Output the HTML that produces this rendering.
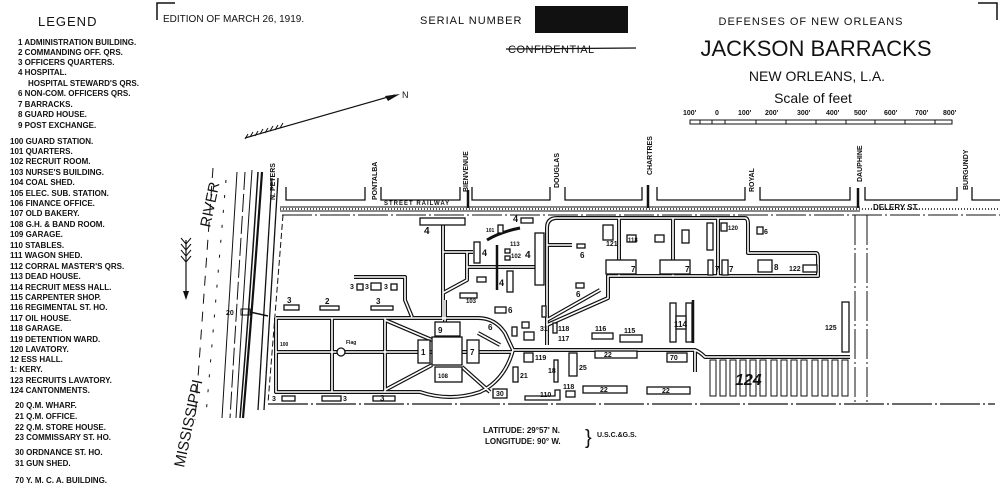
<!DOCTYPE html>
<html><head><meta charset="utf-8"><style>
html,body{margin:0;padding:0;background:#fff;}
svg{display:block;}
text{font-family:"Liberation Sans",sans-serif;fill:#111;}
.lg{font-size:8px;font-weight:bold;}
.s{font-size:7px;font-weight:bold;}
.st{font-size:7px;font-weight:bold;}
</style></head><body>
<svg width="1000" height="500" viewBox="0 0 1000 500" xmlns="http://www.w3.org/2000/svg">
<defs>
<path id="roads" d="M547 345 V228 Q547 218 557 218 H745 Q748 218 748 224 V253 H816 Q818 253 818 258 V276 H608 V298 L547 325
M619 218 V276 M673 218 V276 M718 218 V276
M443 225 V320 M443 252 H473 M467 267 H540 M467 252 V280 L443 293 M547 245 H572
M276 318 H478 Q495 318 505 333 L513 350 H695 Q700 352 705 357 H850
M276 318 V392 H420 Q450 402 480 392 Q505 380 513 350
M332 318 V392 M385 318 V392 M276 352 H432 M462 352 H513
M385 320 L432 340 M385 390 L432 365 M462 367 L490 392 M478 333 L500 345
M445 300 V322 M547 320 L600 290 M695 350 V372
M354 277 H405 V300 L412 317"/>
</defs>
<rect width="1000" height="500" fill="#fff"/>
<!-- LEGEND -->
<text x="38" y="26" style="font-size:13px;letter-spacing:1px">LEGEND</text>
<g class="lg">
<text x="18" y="45">1 ADMINISTRATION BUILDING.</text>
<text x="18" y="55">2 COMMANDING OFF. QRS.</text>
<text x="18" y="65">3 OFFICERS QUARTERS.</text>
<text x="18" y="75">4 HOSPITAL.</text>
<text x="28" y="86">HOSPITAL STEWARD'S QRS.</text>
<text x="18" y="96">6 NON-COM. OFFICERS QRS.</text>
<text x="18" y="107">7 BARRACKS.</text>
<text x="18" y="117">8 GUARD HOUSE.</text>
<text x="18" y="128">9 POST EXCHANGE.</text>
<text x="10" y="144">100 GUARD STATION.</text>
<text x="10" y="154">101 QUARTERS.</text>
<text x="10" y="164">102 RECRUIT ROOM.</text>
<text x="10" y="175">103 NURSE'S BUILDING.</text>
<text x="10" y="185">104 COAL SHED.</text>
<text x="10" y="196">105 ELEC. SUB. STATION.</text>
<text x="10" y="206">106 FINANCE OFFICE.</text>
<text x="10" y="216">107 OLD BAKERY.</text>
<text x="10" y="227">108 G.H. &amp; BAND ROOM.</text>
<text x="10" y="237">109 GARAGE.</text>
<text x="10" y="248">110 STABLES.</text>
<text x="10" y="258">111 WAGON SHED.</text>
<text x="10" y="269">112 CORRAL MASTER'S QRS.</text>
<text x="10" y="279">113 DEAD HOUSE.</text>
<text x="10" y="290">114 RECRUIT MESS HALL.</text>
<text x="10" y="300">115 CARPENTER SHOP.</text>
<text x="10" y="310">116 REGIMENTAL ST. HO.</text>
<text x="10" y="321">117 OIL HOUSE.</text>
<text x="10" y="331">118 GARAGE.</text>
<text x="10" y="342">119 DETENTION WARD.</text>
<text x="10" y="352">120 LAVATORY.</text>
<text x="10" y="362">12   ESS HALL.</text>
<text x="10" y="372">1:     KERY.</text>
<text x="10" y="383">123 RECRUITS LAVATORY.</text>
<text x="10" y="393">124 CANTONMENTS.</text>
<text x="15" y="408">20 Q.M. WHARF.</text>
<text x="15" y="419">21 Q.M. OFFICE.</text>
<text x="15" y="430">22 Q.M. STORE HOUSE.</text>
<text x="15" y="440">23 COMMISSARY ST. HO.</text>
<text x="15" y="455">30 ORDNANCE ST. HO.</text>
<text x="15" y="466">31 GUN SHED.</text>
<text x="15" y="483">70 Y. M. C. A. BUILDING.</text>
</g>
<!-- header -->
<path d="M157 20 V3 H175" fill="none" stroke="#111" stroke-width="1.5"/>
<path d="M978 3 H997 V20" fill="none" stroke="#111" stroke-width="1.5"/>
<text x="163" y="22" style="font-size:10px">EDITION OF MARCH 26, 1919.</text>
<text x="420" y="24" style="font-size:11px;letter-spacing:1px">SERIAL NUMBER</text>
<rect x="535" y="6" width="93" height="27" fill="#111"/>
<text x="508" y="53" style="font-size:11px;letter-spacing:.5px">CONFIDENTIAL</text>
<line x1="506" y1="49" x2="636" y2="48" stroke="#111" stroke-width="1.3"/>
<text x="811" y="25" text-anchor="middle" style="font-size:11px;letter-spacing:1px">DEFENSES OF NEW ORLEANS</text>
<text x="816" y="56" text-anchor="middle" style="font-size:22px">JACKSON BARRACKS</text>
<text x="817" y="81" text-anchor="middle" style="font-size:14px">NEW ORLEANS, L.A.</text>
<text x="813" y="103" text-anchor="middle" style="font-size:14px">Scale of feet</text>
<g class="s">
<text x="683" y="115">100'</text><text x="715" y="115">0</text><text x="738" y="115">100'</text><text x="765" y="115">200'</text><text x="797" y="115">300'</text><text x="826" y="115">400'</text><text x="854" y="115">500'</text><text x="884" y="115">600'</text><text x="915" y="115">700'</text><text x="943" y="115">800'</text>
</g>
<rect x="690" y="120" width="262" height="4" fill="none" stroke="#111" stroke-width="1"/>
<path d="M700 120v4M712 120v4M725 120v4M756 120v4M786 120v4M816 120v4M846 120v4M875 120v4M905 120v4M935 120v4" stroke="#111"/>
<!-- north arrow -->
<line x1="245" y1="138" x2="395" y2="95" stroke="#111" stroke-width="1.2"/>
<path d="M400 94 L385 96 L388 101 Z" fill="#111"/>
<path d="M245 139l3-5M250 137l3-5M255 136l3-5M260 134l3-5M265 133l3-5M270 131l3-5M275 130l3-5M280 128l3-5" stroke="#111"/>
<text x="402" y="98" style="font-size:9px">N</text>
<!-- river -->
<text transform="translate(210,228) rotate(-78)" style="font-size:15px">RIVER</text>
<text transform="translate(184,468) rotate(-78)" style="font-size:15px">MISSISSIPPI</text>
<line x1="186" y1="240" x2="186" y2="298" stroke="#111" stroke-width="1.2"/>
<path d="M186 300 l-3-9 h6z" fill="#111"/>
<path d="M186 244l-5-6M186 244l5-6M186 250l-5-6M186 250l5-6M186 256l-5-6M186 256l5-6M186 262l-5-6M186 262l5-6" stroke="#111"/>
<g fill="none" stroke="#111">
<path d="M213 168 L195 420" stroke-dasharray="10 8"/>
<path d="M237 172 L222 418" stroke-width="1"/>
<path d="M245 172 L230 418" stroke-dasharray="18 4"/>
<path d="M252 170 Q243 300 236 418" stroke-width="1"/>
<path d="M258 172 Q250 300 240 418" stroke-width="1.5"/>
<path d="M262 172 Q253 300 243 418" stroke-width="2.2"/>
<path d="M226 180 L206 415" stroke-dasharray="3 12"/>
<path d="M272 178 L258 410" stroke-width="1.3"/>
<path d="M278 178 L264 410" stroke-width="1.3"/>
</g>
<rect x="241" y="309" width="9" height="6" fill="none" stroke="#111"/>
<line x1="250" y1="312" x2="268" y2="316" stroke="#111" stroke-width="1.5"/>
<text x="226" y="315" class="s">20</text>
<!-- streets -->
<g class="st">
<text transform="translate(275,200) rotate(-90)">N. PETERS</text>
<text transform="translate(377,200) rotate(-90)">PONTALBA</text>
<text transform="translate(468,192) rotate(-90)">BIENVENUE</text>
<text transform="translate(559,188) rotate(-90)">DOUGLAS</text>
<text transform="translate(652,175) rotate(-90)">CHARTRES</text>
<text transform="translate(754,192) rotate(-90)">ROYAL</text>
<text transform="translate(862,182) rotate(-90)">DAUPHINE</text>
<text transform="translate(968,190) rotate(-90)">BURGUNDY</text>
<text x="384" y="205" style="font-size:6px;letter-spacing:1px">STREET RAILWAY</text>
<text x="873" y="210" style="font-size:8px">DELERY ST.</text>
</g>
<g fill="none" stroke="#111" stroke-width="1.3">
<path d="M286 187 V200 H365 V187"/>
<path d="M381 187 V200 H460 V187"/>
<path d="M472 187 V200 H550 V187"/>
<path d="M565 187 V200 H642 V187"/>
<path d="M657 187 V200 H745 V187"/>
<path d="M760 187 V200 H850 V187"/>
<path d="M865 187 V200 H957 V187"/>
<path d="M972 187 V200 H1000"/>
</g>
<line x1="280" y1="209" x2="1000" y2="209" stroke="#111" stroke-width="1.5" stroke-dasharray="1 2"/>
<line x1="280" y1="207" x2="860" y2="207" stroke="#111" stroke-width="1"/>
<line x1="280" y1="211" x2="860" y2="211" stroke="#111" stroke-width="1"/>
<path d="M468 190 V208 M648 185 V208 M858 188 V208" stroke="#111" stroke-width="2.5"/>
<line x1="282" y1="215" x2="1000" y2="215" stroke="#111" stroke-width="1" stroke-dasharray="30 3 2 3"/>
<path d="M283 215 L268 403" stroke="#111" stroke-dasharray="6 3"/>
<line x1="268" y1="404" x2="995" y2="404" stroke="#111" stroke-width="1.3" stroke-dasharray="40 3 2 3"/>
<path d="M855 215 V402 M867 215 V402" stroke="#111" stroke-dasharray="30 3 2 3"/>
<!-- roads -->
<g fill="none" stroke-linejoin="round">
<use href="#roads" stroke="#111" stroke-width="4"/>
<use href="#roads" stroke="#fff" stroke-width="1.6"/>
<path d="M497 245 V290" stroke="#111" stroke-width="2.5"/>
<path d="M487 240 Q500 232 520 228" stroke="#111" stroke-width="3"/>
</g>
<!-- buildings -->
<g fill="#fff" stroke="#111" stroke-width="1.3">
<rect x="432" y="337" width="30" height="28"/>
<rect x="435" y="322" width="25" height="14"/>
<rect x="418" y="340" width="12" height="23"/>
<rect x="467" y="340" width="12" height="23"/>
<rect x="435" y="367" width="27" height="15"/>
<rect x="420" y="218" width="45" height="7"/>
<rect x="521" y="218" width="12" height="5"/>
<rect x="535" y="233" width="9" height="52"/>
<rect x="474" y="242" width="6" height="21"/>
<rect x="507" y="271" width="6" height="21"/>
<rect x="498" y="225" width="5" height="8"/>
<rect x="460" y="293" width="17" height="5"/>
<rect x="495" y="307" width="11" height="6"/>
<rect x="542" y="306" width="4" height="11"/>
<rect x="505" y="249" width="5" height="4"/><rect x="505" y="256" width="5" height="4"/>
<rect x="477" y="277" width="9" height="5"/>
<rect x="522" y="322" width="7" height="6"/>
<rect x="524" y="332" width="10" height="8"/>
<rect x="512" y="327" width="5" height="9"/>
<rect x="553" y="323" width="4" height="10"/>
<rect x="670" y="303" width="6" height="39"/><rect x="686" y="303" width="6" height="39"/><rect x="676" y="316" width="10" height="13"/>
<rect x="592" y="333" width="21" height="6"/>
<rect x="620" y="335" width="22" height="7"/>
<rect x="595" y="351" width="42" height="7"/>
<rect x="667" y="353" width="20" height="9"/>
<rect x="569" y="353" width="8" height="23"/>
<rect x="554" y="360" width="4" height="22"/>
<rect x="513" y="367" width="5" height="15"/>
<rect x="524" y="353" width="9" height="9"/>
<rect x="493" y="389" width="14" height="9"/>
<path d="M525 400 H560 V390 H555 V396 H525 Z"/>
<rect x="566" y="391" width="9" height="6"/>
<rect x="583" y="386" width="44" height="7"/>
<rect x="647" y="387" width="43" height="7"/>
<rect x="842" y="302" width="7" height="50"/>
<rect x="606" y="260" width="30" height="14"/>
<rect x="660" y="260" width="30" height="14"/>
<rect x="708" y="260" width="5" height="15"/>
<rect x="722" y="260" width="6" height="15"/>
<rect x="758" y="260" width="14" height="12"/>
<rect x="803" y="265" width="14" height="7"/>
<rect x="707" y="223" width="6" height="27"/>
<rect x="721" y="223" width="6" height="8"/>
<rect x="603" y="225" width="10" height="15"/>
<rect x="627" y="235" width="9" height="7"/>
<rect x="655" y="235" width="9" height="7"/>
<rect x="682" y="230" width="7" height="13"/>
<rect x="757" y="227" width="6" height="7"/>
<rect x="577" y="244" width="8" height="4"/>
<rect x="576" y="283" width="8" height="5"/>
<rect x="284" y="305" width="15" height="5"/>
<rect x="320" y="306" width="19" height="4"/>
<rect x="371" y="306" width="22" height="4"/>
<rect x="357" y="284" width="6" height="6"/><rect x="371" y="283" width="10" height="7"/><rect x="391" y="284" width="6" height="6"/>
<rect x="282" y="396" width="13" height="5"/>
<rect x="322" y="396" width="19" height="5"/>
<rect x="373" y="396" width="22" height="5"/>
<circle cx="341" cy="352" r="4"/>
</g>
<g fill="none" stroke="#111" stroke-width="1">
<path d="M710 360 h6 v36 h-6 z M720 360 h6 v36 h-6 z M730 360 h6 v36 h-6 z M740 360 h6 v36 h-6 z M750 360 h6 v36 h-6 z M760 360 h6 v36 h-6 z M771 360 h6 v36 h-6 z M781 360 h6 v36 h-6 z M791 360 h6 v36 h-6 z M801 360 h6 v36 h-6 z M812 360 h6 v36 h-6 z M822 360 h6 v36 h-6 z M832 360 h6 v36 h-6 z M842 360 h6 v36 h-6 z"/>
</g>
<line x1="693" y1="300" x2="693" y2="343" stroke="#111" stroke-width="2.5"/>
<!-- labels -->
<g class="s">
<text x="424" y="234" style="font-size:10px">4</text>
<text x="513" y="222" style="font-size:9px">4</text>
<text x="525" y="258" style="font-size:10px">4</text>
<text x="482" y="256" style="font-size:9px">4</text>
<text x="499" y="286" style="font-size:9px">4</text>
<text x="486" y="232" style="font-size:5px">101</text>
<text x="510" y="246" style="font-size:6px">113</text>
<text x="511" y="258" style="font-size:6px">102</text>
<text x="466" y="303" style="font-size:6px">103</text>
<text x="508" y="313" style="font-size:8px">6</text>
<text x="488" y="330" style="font-size:8px">6</text>
<text x="438" y="333" style="font-size:8px">9</text>
<text x="421" y="355" style="font-size:8px">1</text>
<text x="470" y="355" style="font-size:8px">7</text>
<text x="438" y="378" style="font-size:6px">108</text>
<text x="287" y="303" style="font-size:8px">3</text>
<text x="325" y="304" style="font-size:8px">2</text>
<text x="376" y="304" style="font-size:8px">3</text>
<text x="350" y="289">3</text><text x="365" y="289">3</text><text x="384" y="289">3</text>
<text x="272" y="401">3</text><text x="343" y="401">3</text><text x="380" y="401" style="font-size:8px">3</text>
<text x="280" y="346" style="font-size:5px">100</text>
<text x="346" y="344" style="font-size:5px">Flag</text>
<text x="540" y="331">31</text><text x="558" y="331">118</text><text x="558" y="341">117</text>
<text x="595" y="331">116</text><text x="624" y="333">115</text>
<text x="604" y="357">22</text><text x="670" y="360">70</text>
<text x="579" y="370">25</text><text x="548" y="373">18</text>
<text x="520" y="378">21</text><text x="535" y="360">119</text>
<text x="496" y="396">30</text><text x="540" y="397">110</text>
<text x="563" y="389">118</text>
<text x="600" y="392">22</text><text x="662" y="393">22</text>
<text x="674" y="327" style="font-size:8px">114</text>
<text x="825" y="330">125</text>
<text x="735" y="385" style="font-size:16px;font-style:italic">124</text>
<text x="606" y="246">121</text><text x="628" y="242" style="font-size:6px">118</text>
<text x="715" y="272" style="font-size:8px">7</text><text x="729" y="272" style="font-size:8px">7</text>
<text x="631" y="272" style="font-size:8px">7</text><text x="685" y="272" style="font-size:8px">7</text>
<text x="774" y="270" style="font-size:8px">8</text><text x="789" y="271">122</text>
<text x="764" y="234">6</text><text x="728" y="230" style="font-size:6px">120</text>
<text x="580" y="258" style="font-size:8px">6</text><text x="576" y="297" style="font-size:8px">6</text>
</g>
<!-- lat/long -->
<g style="font-size:8px;font-weight:bold">
<text x="483" y="433">LATITUDE: 29°57' N.</text>
<text x="485" y="444">LONGITUDE: 90° W.</text>
<text x="597" y="437" style="font-size:7px">U.S.C.&amp;G.S.</text>
</g>
<text x="585" y="444" style="font-size:20px">}</text>
</svg>
</body></html>
